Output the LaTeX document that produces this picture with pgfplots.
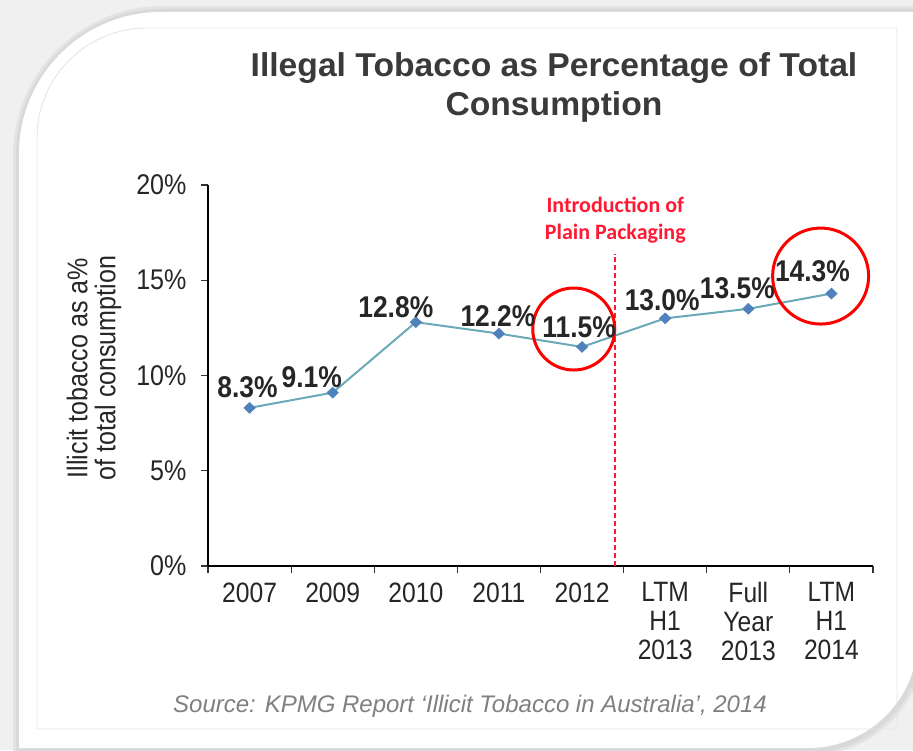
\documentclass[border=0pt]{standalone}
\usepackage{pgfplots}
\pgfplotsset{compat=1.18}
\usepackage{fontspec}
\setmainfont{Liberation Sans}
\newfontfamily\narrowfont[FakeStretch=0.88]{Liberation Sans}
\newfontfamily\titlefont[FakeStretch=1.02]{Liberation Sans}
\newfontfamily\calibri{Carlito}

\definecolor{linecol}{HTML}{6AAAB8}
\definecolor{markcol}{HTML}{4F81BD}
\definecolor{txt}{HTML}{262626}
\definecolor{titlecol}{HTML}{3A3A3A}
\definecolor{srcgray}{HTML}{808080}
\definecolor{annot}{HTML}{FF1A33}

% x = category index, dx/dy = label offset from the point
\pgfplotstableread{
x y dx dy lbl
0 8.3 -2 21 8.3
1 9.1 -21 15 9.1
2 12.8 -20 15 12.8
3 12.2 -1 17 12.2
4 11.5 -3 20 11.5
5 13.0 -3 18 13.0
6 13.5 -11 21 13.5
7 14.3 -19 22 14.3
}\datatable

\begin{document}
\begin{tikzpicture}[x=1pt,y=1pt]
\path[use as bounding box] (0,0) rectangle (913,750);
\clip (0,0) rectangle (913,750);
% frame / shadow
\fill[gray!12] (0,0) rectangle (913,750);
\fill[gray!22] (13,-5) [rounded corners=150pt] -- (13,744) [sharp corners] -- (925,744) [rounded corners=115pt] -- (925,-5) [sharp corners] -- cycle;
\fill[gray!30] (16,-5) [rounded corners=146pt] -- (16,741) [sharp corners] -- (922,741) [rounded corners=112pt] -- (922,-2) [sharp corners] -- cycle;
\fill[white] (19,2) [rounded corners=142pt] -- (19,738) [sharp corners] -- (918,738) [rounded corners=110pt] -- (918,2) [sharp corners] -- cycle;
\draw[gray!22, line width=0.8pt] (37,21) [rounded corners=110pt] -- (37,722) [sharp corners] -- (897,722) -- (897,21) -- cycle;

\node[anchor=north, inner sep=0pt, align=center, text=titlecol,
      font=\titlefont\bfseries\fontsize{33}{39}\selectfont] at (554,698)
  {Illegal Tobacco as Percentage of Total\\Consumption};

\node[rotate=90, align=center, text=txt,
      font=\narrowfont\fontsize{28.5}{28}\selectfont] at (94,382)
  {Illicit tobacco as a\%\\of total consumption};

\node[anchor=base west, inner sep=0pt, text=srcgray,
      font=\itshape\fontsize{24}{26}\selectfont] at (173,38)
  {Source: KPMG Report ‘Illicit Tobacco in Australia’, 2014};

\begin{axis}[
  at={(208pt,184pt)}, anchor=south west,
  scale only axis, width=665pt, height=381pt,
  xmin=-0.5, xmax=7.5, ymin=0, ymax=20,
  axis x line*=bottom, axis y line*=left,
  axis line style={black, line width=1.3pt},
  tick align=outside, xtick pos=bottom, ytick pos=left,
  xtick={0,...,7},
  xticklabels={2007,2009,2010,2011,2012,{LTM\\H1\\2013},{Full\\Year\\2013},{LTM\\H1\\2014}},
  major x tick style={draw=none},
  minor xtick={-0.5,0.5,...,7.5},
  minor tick length=7pt, major tick length=7pt,
  tick style={black!80, line width=1.2pt},
  ytick={0,5,10,15,20},
  yticklabels={0\%,5\%,10\%,15\%,20\%},
  xticklabel style={align=center, text=txt, yshift=-6pt,
    font=\narrowfont\fontsize{28}{29}\selectfont},
  yticklabel style={text=txt, xshift=-11pt,
    font=\narrowfont\fontsize{28.5}{29}\selectfont},
  clip=false,
]
% plain packaging marker
\addplot[draw=annot, line width=2pt, dash pattern=on 5pt off 3pt, forget plot]
  coordinates {(4.4,0) (4.4,16.4)};

\addplot[linecol, line width=2pt, mark=diamond*, mark size=4.5pt,
  mark options={draw=markcol, fill=markcol, xscale=1.4},
  nodes near coords={\pgfplotspointmeta\%},
  point meta=explicit symbolic,
  visualization depends on={\thisrow{dx} \as \dx},
  visualization depends on={\thisrow{dy} \as \dy},
  every node near coord/.append style={anchor=center, xshift=\dx pt, yshift=\dy pt,
    text=txt, font=\narrowfont\bfseries\fontsize{30}{30}\selectfont}]
  table[x=x, y=y, meta=lbl] {\datatable};

\node[text=annot, align=center, font=\calibri\bfseries\fontsize{22}{27}\selectfont]
  at (axis cs:4.4,18.15) {Introduction of\\Plain Packaging};
\draw[red, line width=3pt] (axis cs:3.90,12.44) circle[radius=41pt];
\draw[red, line width=3pt] (axis cs:6.87,15.22) circle[radius=48pt];
\end{axis}
\end{tikzpicture}
\end{document}
